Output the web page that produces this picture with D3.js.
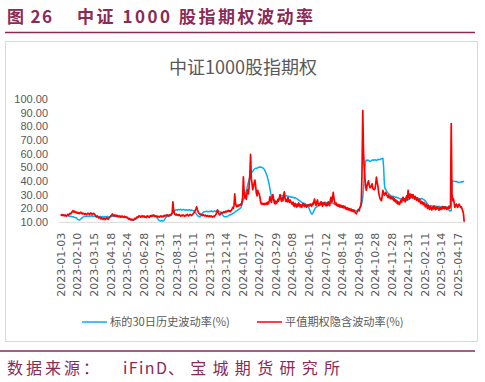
<!DOCTYPE html>
<html><head><meta charset="utf-8">
<script src="https://cdn.jsdelivr.net/npm/d3@7"></script>
<style>body{margin:0;background:#fff;} svg{display:block;}</style>
</head><body>
<svg id="c" width="485" height="382"></svg>
<script>
const tickLabels = ["2023-01-03","2023-02-10","2023-03-15","2023-04-18","2023-05-24","2023-06-28","2023-07-31","2023-08-31","2023-10-11","2023-11-13","2023-12-14","2024-01-17","2024-02-27","2024-03-29","2024-05-08","2024-06-11","2024-07-12","2024-08-14","2024-09-18","2024-10-28","2024-11-28","2024-12-31","2025-02-11","2025-03-14","2025-04-17"];
const tickIndex = [0,23,46,69,92,115,138,161,184,207,230,253,276,299,322,345,368,391,414,437,460,483,506,529,552];
const yTicks = [10,20,30,40,50,60,70,80,90,100];
const seriesNames = ["标的30日历史波动率(%)","平值期权隐含波动率(%)"];

// 标的30日历史波动率(%) — one value per trading day
const hv = [
15.2,15.0,14.8,15.1,14.9,14.6,14.7,14.5,14.3,14.6,14.4,14.2,14.0,13.8,14.1,13.9,13.6,13.8,13.5,13.4,13.2,13.0,12.8,
12.2,11.8,11.5,11.3,11.6,12.1,12.6,13.0,13.4,13.6,13.9,14.1,13.8,14.0,14.2,13.9,14.1,14.3,14.0,14.2,14.4,14.1,13.9,
14.0,14.2,13.9,13.7,13.9,14.1,13.8,13.6,13.8,14.0,13.7,13.5,13.8,13.6,13.4,13.7,13.9,13.6,13.8,14.0,13.7,13.5,13.8,
14.0,14.2,13.9,14.1,14.3,14.0,13.8,14.1,13.9,13.7,14.0,13.8,13.6,13.9,14.1,13.8,13.6,13.9,13.7,13.5,13.8,13.6,13.4,
13.2,13.0,12.6,12.2,11.8,11.5,11.3,11.6,11.4,11.2,11.5,11.7,11.9,12.3,12.8,13.2,13.6,13.9,14.1,13.8,14.0,14.2,13.9,
14.1,14.3,14.0,13.8,14.1,14.3,14.0,13.8,14.0,14.2,14.4,14.1,13.9,14.2,14.4,14.1,13.8,14.0,13.6,13.0,12.2,11.5,11.0,
10.8,10.6,10.7,10.9,10.6,10.8,11.4,12.2,13.0,13.6,14.0,14.2,13.9,14.1,14.4,14.6,15.2,16.0,16.8,17.4,18.0,18.4,18.6,
18.8,18.5,18.9,19.1,18.7,18.9,19.2,18.8,18.6,18.9,19.1,18.8,18.5,18.7,18.9,18.6,18.4,18.7,18.9,18.5,18.3,18.6,18.4,
18.2,18.0,17.6,17.0,16.2,15.4,14.8,14.2,13.8,13.6,13.9,14.4,15.2,16.0,16.8,17.2,17.5,17.3,17.6,17.8,17.5,17.3,17.6,
17.8,17.5,17.7,17.9,17.6,17.4,17.7,17.9,17.6,17.8,18.0,17.7,17.5,17.8,17.6,17.3,16.8,16.0,15.2,14.4,13.9,13.7,13.8,
13.6,13.9,14.1,14.4,14.8,15.1,15.4,15.2,15.6,16.0,16.3,16.6,17.0,17.4,17.8,18.2,18.6,18.9,19.2,19.6,20.0,21.0,22.5,
24.5,26.5,28.0,29.5,31.0,32.5,34.5,37.0,39.0,41.0,43.0,44.5,45.5,46.2,47.0,47.8,48.5,48.9,49.2,49.0,49.4,49.6,49.9,
50.0,50.2,49.9,50.1,49.7,49.5,49.0,48.4,47.5,46.3,45.0,43.5,41.5,39.5,37.0,34.0,31.0,29.0,28.0,27.2,26.5,25.8,25.5,
24.8,24.3,24.6,25.4,26.5,27.6,28.4,28.9,29.2,28.8,29.1,29.4,29.0,28.7,29.0,29.2,28.8,28.5,28.8,28.4,28.1,28.4,28.0,
27.8,28.1,27.7,27.4,27.7,27.3,27.0,26.6,26.2,25.8,25.5,25.1,24.7,24.3,24.0,23.6,23.2,23.5,23.0,22.6,22.2,21.8,21.2,
20.2,19.0,17.6,16.4,15.7,15.9,16.8,18.0,19.2,20.2,20.6,20.9,21.3,21.8,22.3,22.8,23.2,23.6,24.0,24.2,24.0,24.3,24.1,
24.3,24.0,23.8,24.1,24.3,24.0,23.8,24.1,23.9,23.6,23.8,23.5,23.2,23.5,23.1,22.8,22.4,22.0,21.6,21.3,21.0,21.3,21.0,
20.8,21.1,20.7,20.5,20.8,20.4,20.1,20.3,19.9,19.6,19.8,19.4,19.1,19.3,18.9,18.6,18.8,18.4,18.1,18.3,17.9,18.2,18.6,
18.9,19.5,20.2,21.0,22.5,24.5,28.0,34.0,42.0,50.0,54.5,55.2,54.8,55.3,55.0,54.6,54.2,54.5,54.9,55.2,55.4,55.1,55.3,
55.5,55.2,55.0,55.3,55.6,55.8,55.5,55.7,56.0,56.2,56.4,56.5,50.0,38.0,34.3,33.8,32.5,31.8,31.0,30.5,30.0,29.6,29.2,
29.0,28.8,28.5,28.7,28.3,28.0,28.2,27.8,27.5,27.7,27.3,27.0,26.8,27.0,26.6,26.3,26.5,26.1,25.8,26.0,25.6,25.4,25.7,
26.0,26.4,26.8,27.2,27.5,27.8,27.6,27.9,28.0,27.7,27.4,27.6,27.3,27.0,26.8,27.1,26.9,26.6,26.9,27.1,26.8,26.5,26.2,
25.8,25.2,24.5,23.8,23.0,22.4,22.0,21.7,21.9,21.6,21.8,21.5,21.3,21.6,21.4,21.2,21.5,21.3,21.0,21.2,21.4,21.1,20.9,
21.1,21.3,21.0,20.8,21.1,20.9,20.6,20.8,20.5,19.8,19.0,18.4,18.1,18.3,18.0,40.2,40.0,39.8,39.6,39.8,39.5,39.3,39.5,
39.2,39.0,38.8,38.9,39.1,39.3,39.2,39.4,39.6,39.5
];

// 平值期权隐含波动率(%) — one value per trading day
const iv = [
15.5,15.0,14.6,15.3,14.8,14.4,15.0,14.5,14.2,14.9,15.4,14.8,15.6,16.2,15.8,16.6,17.4,18.1,17.2,17.8,16.9,17.3,16.5,
16.9,16.2,16.7,16.0,16.6,17.1,16.3,15.8,16.4,15.9,15.5,16.1,15.6,15.2,15.9,16.3,15.7,15.4,16.0,16.5,15.8,15.3,15.9,
16.2,15.6,15.0,14.2,13.6,14.3,13.4,12.8,13.5,12.6,12.1,13.0,12.4,11.8,12.6,12.2,11.6,12.5,13.1,12.3,11.8,12.7,13.3,
13.8,14.5,15.1,15.7,14.9,14.3,15.0,14.6,14.1,14.8,14.2,13.7,14.4,13.9,13.4,14.1,13.6,14.2,13.8,13.3,14.0,13.6,13.1,
13.5,12.9,12.3,11.8,12.4,11.6,11.3,12.0,11.5,11.2,11.9,12.5,12.1,12.8,13.5,13.1,13.8,14.4,13.9,13.4,14.1,13.6,14.3,
13.9,13.4,14.0,13.5,13.1,13.8,14.3,13.7,13.2,13.9,14.5,14.0,14.8,14.3,15.0,14.5,13.9,14.4,13.8,14.2,13.6,14.0,13.5,
13.9,14.3,13.7,14.1,13.6,14.2,14.7,14.1,14.6,15.1,14.5,15.0,14.4,14.9,15.3,14.8,15.5,16.5,24.7,19.0,16.2,15.4,15.0,
15.6,14.9,15.3,14.7,15.2,14.6,14.2,14.8,14.4,15.0,14.5,14.1,14.7,14.3,14.9,15.4,14.8,14.3,14.9,15.5,15.0,14.6,15.2,
15.8,16.4,17.2,18.3,19.5,21.0,19.0,17.4,16.3,15.8,15.2,15.7,15.1,14.6,15.2,14.8,14.3,14.9,14.4,14.0,14.6,14.2,13.8,
14.3,13.8,14.4,13.9,13.5,14.1,13.6,14.2,14.8,15.6,17.0,18.8,17.2,15.8,15.0,15.6,16.2,16.8,16.3,16.9,17.5,16.8,17.3,
17.8,17.2,17.9,18.4,17.6,18.1,17.5,18.2,19.0,20.5,19.8,22.0,30.4,24.0,21.8,21.0,22.2,21.5,22.4,21.8,23.0,22.2,24.5,
28.0,43.0,32.0,27.5,29.0,26.5,31.0,33.5,30.5,36.0,45.0,59.5,42.0,38.0,33.5,35.5,38.5,40.5,36.5,31.0,29.0,33.0,31.0,
30.5,28.0,24.5,23.0,23.6,22.8,23.3,22.6,23.4,22.9,23.8,22.7,24.5,23.2,25.5,28.5,26.0,24.2,27.8,30.0,26.5,24.0,23.2,
25.0,23.5,24.8,26.5,25.2,27.0,30.0,26.8,25.0,27.5,25.5,29.5,32.0,27.0,25.0,26.5,24.6,27.8,25.3,24.2,26.0,24.8,23.5,
22.8,24.5,22.0,21.2,23.6,22.4,20.8,22.9,21.5,23.8,22.2,21.0,22.6,20.5,21.8,23.5,22.0,21.2,22.8,21.5,20.6,22.4,21.8,
22.5,21.6,23.0,22.2,21.4,23.5,22.6,24.8,26.7,23.5,22.0,24.5,26.0,23.2,21.8,23.6,22.4,24.8,23.0,21.5,23.8,22.6,24.0,
22.8,21.6,23.4,22.0,24.6,23.0,21.8,26.5,28.0,24.5,27.5,31.6,27.0,24.2,22.5,23.8,21.9,22.8,21.4,22.5,21.0,22.2,20.8,
21.8,20.5,21.6,20.2,21.3,20.0,19.2,20.4,19.0,19.8,18.6,19.5,18.2,19.0,17.8,18.6,17.5,18.4,17.2,16.5,15.9,17.0,18.2,
19.0,18.0,20.5,21.5,25.0,48.0,91.5,62.0,50.0,42.0,36.0,33.0,36.5,38.5,40.0,37.0,35.0,35.3,36.5,37.8,34.5,34.0,33.5,
34.2,38.0,42.7,39.0,36.5,32.0,29.0,27.0,26.0,25.5,29.0,33.0,31.0,29.5,30.6,31.5,30.0,29.0,28.0,29.5,27.5,28.5,27.0,
28.2,26.8,27.8,25.5,26.8,24.8,26.0,23.8,25.2,23.0,24.5,22.8,24.0,25.8,24.3,27.0,28.0,25.5,26.8,24.6,27.5,29.0,26.2,
33.0,28.5,27.0,30.4,28.2,30.0,27.5,29.8,28.0,26.5,28.6,27.2,25.8,27.5,26.0,24.8,26.5,24.5,23.2,25.0,23.8,22.5,24.2,
22.8,21.0,23.0,21.5,19.8,22.0,20.6,19.0,21.2,20.0,18.6,20.8,19.4,21.5,20.2,18.8,20.6,19.5,21.0,19.8,18.5,20.2,19.2,
20.5,19.3,21.2,19.8,20.8,19.5,21.0,20.2,19.0,20.6,19.8,21.5,20.0,22.0,82.0,30.4,25.5,27.0,24.0,20.5,22.0,23.0,21.5,
20.5,22.5,23.0,21.8,20.5,21.0,19.5,18.0,16.0,10.0
];

const maroon = "#8a2a55";
const grey = "#595959";
const blue = "#00b0f0";
const red = "#ff0000";

const svg = d3.select("#c");

// header
svg.append("text").attr("x",7).attr("y",23)
  .attr("font-family","'Noto Sans CJK SC',sans-serif").attr("font-weight",700)
  .attr("font-size",17).attr("fill",maroon)
  .attr("textLength",45).attr("lengthAdjust","spacing")
  .text("图 26");
svg.append("text").attr("x",77).attr("y",23)
  .attr("font-family","'Noto Sans CJK SC',sans-serif").attr("font-weight",700)
  .attr("font-size",17).attr("fill",maroon)
  .attr("textLength",236).attr("lengthAdjust","spacing")
  .text("中证 1000 股指期权波动率");
svg.append("line").attr("x1",5).attr("x2",475).attr("y1",32.5).attr("y2",32.5)
  .attr("stroke",maroon).attr("stroke-width",1.3);

// chart frame
svg.append("rect").attr("x",5.5).attr("y",41.5).attr("width",472).attr("height",300)
  .attr("fill","#fff").attr("stroke","#d9d9d9").attr("stroke-width",1);

svg.append("text").attr("x",243).attr("y",74).attr("text-anchor","middle")
  .attr("font-family","'Noto Sans CJK SC',sans-serif").attr("font-size",18)
  .attr("fill",grey).text("中证1000股指期权");

const x = d3.scaleLinear().domain([0,552]).range([60.7,457.7]);
const y = d3.scaleLinear().domain([10,100]).range([221.8,99]);

// y axis
const ya = svg.append("g").attr("transform","translate(50,0)")
  .call(d3.axisLeft(y).tickValues(yTicks).tickSize(0).tickPadding(2).tickFormat(d3.format(".2f")));
ya.select(".domain").remove();
ya.selectAll("text").attr("font-family","'Liberation Sans',Arial,sans-serif")
  .attr("font-size",11).attr("fill",grey);

// x axis
const xa = svg.append("g").attr("transform",`translate(0,${y(10)})`)
  .call(d3.axisBottom(x).tickValues(tickIndex).tickSize(0).tickFormat((d,i)=>tickLabels[i]));
xa.select(".domain").remove();
xa.selectAll("text")
  .attr("transform","rotate(-90)").attr("x",-11).attr("y",0).attr("dy","0.35em")
  .attr("text-anchor","end")
  .attr("font-family","'DejaVu Sans',sans-serif").attr("font-size",10.5).attr("fill",grey)
  .attr("textLength",64).attr("lengthAdjust","spacingAndGlyphs");
svg.append("line").attr("x1",x(-2)).attr("x2",x(563)).attr("y1",y(10)+0.5).attr("y2",y(10)+0.5)
  .attr("stroke","#d9d9d9").attr("stroke-width",1);

// lines
const line = d3.line().x((d,i)=>x(i)).y(d=>y(d));
svg.append("path").datum(hv).attr("d",line).attr("fill","none")
  .attr("stroke",blue).attr("stroke-width",1.5).attr("stroke-linejoin","round");
svg.append("path").datum(iv).attr("d",line).attr("fill","none")
  .attr("stroke",red).attr("stroke-width",1.7).attr("stroke-linejoin","round");

// legend
const leg = [{n:seriesNames[0],c:blue,x:82},{n:seriesNames[1],c:red,x:257}];
leg.forEach(l=>{
  svg.append("line").attr("x1",l.x).attr("x2",l.x+25).attr("y1",322).attr("y2",322)
    .attr("stroke",l.c).attr("stroke-width",1.5);
  svg.append("text").attr("x",l.x+28).attr("y",322).attr("dy","0.35em")
    .attr("font-family","'Noto Sans CJK SC',sans-serif").attr("font-size",11.2)
    .attr("fill",grey).text(l.n);
});

// footer
svg.append("line").attr("x1",0).attr("x2",475).attr("y1",351).attr("y2",351)
  .attr("stroke",maroon).attr("stroke-width",1.3);
const foot = (t,x0,len)=>svg.append("text").attr("x",x0).attr("y",374)
  .attr("font-family","'Noto Sans CJK SC',sans-serif").attr("font-size",16)
  .attr("fill",maroon).attr("textLength",len).attr("lengthAdjust","spacing").text(t);
foot("数据来源：",7,92);
foot("iFinD",123,44);
foot("、宝城期货研究所",168,172);
</script>
</body></html>
